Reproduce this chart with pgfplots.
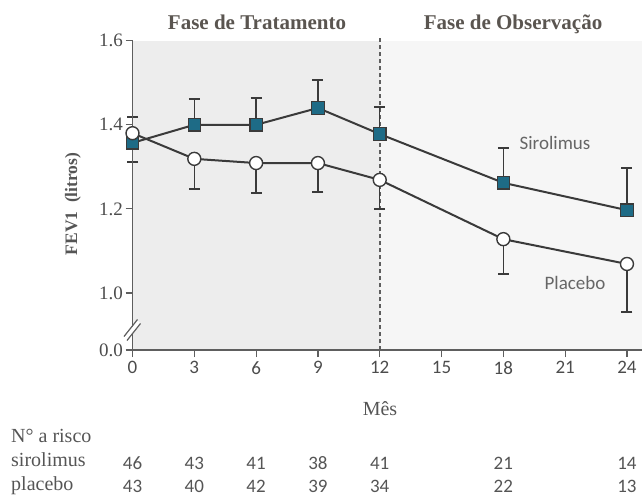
\documentclass[border=0pt]{standalone}
\usepackage{pgfplots}
\pgfplotsset{compat=1.18}
\usepackage{fontspec}
\setmainfont{Liberation Serif}
\newfontfamily\sansf{Carlito}
\definecolor{txt}{HTML}{555555}
\definecolor{ttl}{HTML}{5A5550}
\definecolor{ax}{HTML}{5E5E5E}
\definecolor{ln}{HTML}{3A3A3A}
\definecolor{sqfill}{HTML}{1E6B86}
\definecolor{bgL}{HTML}{EDEDED}
\definecolor{bgR}{HTML}{F6F6F6}
\begin{document}
\begin{tikzpicture}[x=1pt,y=1pt]
\path[use as bounding box] (0,0) rectangle (642,496);
\begin{axis}[
  at={(132.5pt,146pt)}, anchor=south west, scale only axis,
  width=509.5pt, height=309.3pt,
  xmin=0, xmax=24.73, ymin=0.8644, ymax=1.6,
  axis x line*=bottom, axis y line*=left,
  axis line style={ax, line width=1.4pt},
  /pgf/number format/assume math mode=true,
  xtick={0,3,...,24},
  ytick={0.8644,1.0,1.2,1.4,1.6},
  yticklabels={\textrm{0.0},\textrm{1.0},\textrm{1.2},\textrm{1.4},\textrm{1.6}},
  tick align=outside, major tick length=7pt,
  tick style={ax, line width=1.2pt},
  xticklabel style={font=\sansf\fontsize{19}{19}\selectfont, text=txt!90!black, yshift=-1pt},
  yticklabel style={font=\fontsize{19}{19}\selectfont, text=txt!90!black, xshift=1pt},
  axis on top,
  clip=false,
]
\fill[bgL] (axis cs:0,0.8644) rectangle (axis cs:12,1.6);
\fill[bgR] (axis cs:12,0.8644) rectangle (axis cs:24.73,1.6);
\draw[ax, line width=2pt, dash pattern=on 4pt off 3pt] (axis cs:12,0.8644) -- (axis cs:12,1.61);

% Sirolimus
\addplot[ln, line width=2pt, mark=square*, mark size=6.2pt,
  mark options={fill=sqfill, draw=ln, line width=1.2pt, solid},
  error bars/.cd, y dir=both, y explicit,
  error bar style={ln, line width=1.5pt},
  error mark options={rotate=90, mark size=5.5pt, ln, line width=1.5pt}]
coordinates {
 (0,1.357)  += (0,0.062) -= (0,0)
 (3,1.400)  += (0,0.061) -= (0,0)
 (6,1.400)  += (0,0.064) -= (0,0)
 (9,1.440)  += (0,0.067) -= (0,0)
 (12,1.378) += (0,0.064) -= (0,0)
 (18,1.262) += (0,0.083) -= (0,0)
 (24,1.197) += (0,0.100) -= (0,0)
};

% Placebo
\addplot[ln, line width=2pt, mark=*, mark size=6.5pt,
  mark options={fill=white, draw=ln, line width=1.4pt, solid},
  error bars/.cd, y dir=both, y explicit,
  error bar style={ln, line width=1.5pt},
  error mark options={rotate=90, mark size=5.5pt, ln, line width=1.5pt}]
coordinates {
 (0,1.380)  += (0,0) -= (0,0.069)
 (3,1.319)  += (0,0) -= (0,0.072)
 (6,1.309)  += (0,0) -= (0,0.071)
 (9,1.309)  += (0,0) -= (0,0.069)
 (12,1.269) += (0,0) -= (0,0.069)
 (18,1.128) += (0,0) -= (0,0.083)
 (24,1.069) += (0,0) -= (0,0.114)
};
\end{axis}

% axis break
\fill[white] (124.5,159) -- (137.5,175.5) -- (140.5,172.5) -- (127.5,156) -- cycle;
\draw[ax, line width=1.2pt] (124,159.5) -- (137.5,176.5);
\draw[ax, line width=1.2pt] (127,155.5) -- (140.5,172.5);

% titles
\node[anchor=base, font=\bfseries\fontsize{21}{21}\selectfont, text=ttl] at (257,466) {Fase de Tratamento};
\node[anchor=base, font=\bfseries\fontsize{21}{21}\selectfont, text=ttl] at (513,466) {Fase de Observação};

% axis labels
\node[rotate=90, font=\bfseries\fontsize{17.5}{17.5}\selectfont, text=txt] at (73,292) {FEV1\ \ (litros)};
\node[font=\fontsize{20}{20}\selectfont, text=txt] at (380,87) {Mês};

% series labels
\node[font=\sansf\fontsize{19}{19}\selectfont, text=txt!90] at (555,353) {Sirolimus};
\node[font=\sansf\fontsize{19}{19}\selectfont, text=txt!90] at (575,213) {Placebo};

% risk table
\node[anchor=base west, inner sep=0pt, font=\fontsize{20}{20}\selectfont, text=txt] at (11,54) {N° a risco};
\node[anchor=base west, inner sep=0pt, font=\fontsize{20}{20}\selectfont, text=txt] at (11,30) {sirolimus};
\node[anchor=base west, inner sep=0pt, font=\fontsize{20}{20}\selectfont, text=txt] at (11,6) {placebo};
\foreach \x/\a/\b in {132.5/46/43, 194.3/43/40, 256.1/41/42, 317.9/38/39, 379.7/41/34, 503.3/21/22, 626.9/14/13} {
  \node[anchor=base, inner sep=0pt, font=\sansf\fontsize{19}{19}\selectfont, text=txt] at (\x,27) {\a};
  \node[anchor=base, inner sep=0pt, font=\sansf\fontsize{19}{19}\selectfont, text=txt] at (\x,4) {\b};
}
\end{tikzpicture}
\end{document}
